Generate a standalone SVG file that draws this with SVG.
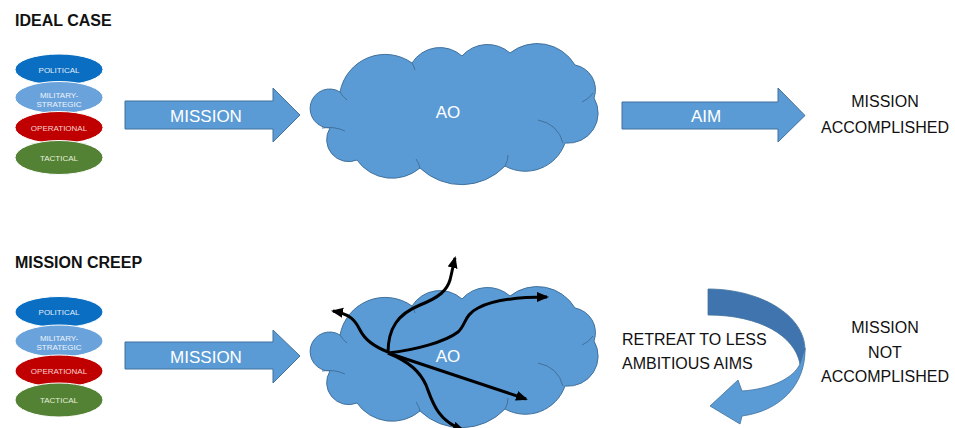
<svg xmlns="http://www.w3.org/2000/svg" width="955" height="428" viewBox="0 0 955 428">
<style>
.hdr{font-family:"Liberation Sans",Arial,sans-serif;font-weight:bold;font-size:16px;fill:#111}
.lbl{font-family:"Liberation Sans",Arial,sans-serif;font-size:16px;fill:#111;text-anchor:middle}
.wt{font-family:"Liberation Sans",Arial,sans-serif;font-size:17px;fill:#fff;text-anchor:middle}
.sm{font-family:"Liberation Sans",Arial,sans-serif;font-size:8px;text-anchor:middle}
.blk{fill:#5B9BD5;stroke:#41719C;stroke-width:1}
.cloud{fill:#5B9BD5;stroke:#41719C;stroke-width:1}
.inner{fill:none;stroke:#41719C;stroke-width:1}
.ln{fill:none;stroke:#000;stroke-width:3;marker-end:url(#ah)}
</style>
<defs>
<marker id="ah" markerUnits="userSpaceOnUse" markerWidth="13" markerHeight="11" refX="10" refY="5" orient="auto">
<path d="M0,0 L12,5 L0,10 z" fill="#000"/>
</marker>
<path id="cloudShape" d="M340,92 A46,46 0 0 1 412,63 A33,33 0 0 1 462,56 A34,34 0 0 1 510,53 A44,44 0 0 1 575,65 A25,25 0 0 1 594,98 A30,30 0 0 1 565,143 A42,42 0 0 1 505,166 A60,60 0 0 1 420,168 A43,43 0 0 1 357,160 A22,22 0 0 1 330,128 A19.5,19.5 0 1 1 340,92 Z"/>
<g id="cloudInner">
<path d="M340,92 Q343,97 347,100"/>
<path d="M322,128 Q334,126 345,131"/>
<path d="M538,120 Q558,124 563,143"/>
<path d="M582,102 Q589,99 593,93"/>
<path d="M505,166 Q508,161 508,155"/>
<path d="M420,168 Q419,163 416,159"/>
<path d="M412,63 Q414,66 415,70"/>
</g>
</defs>
<g id="ideal">
<text class="hdr" x="15" y="26" font-size="15.5">IDEAL CASE</text>
<g id="levels-top">
<ellipse cx="59" cy="69.5" rx="44" ry="15.5" fill="#0A6FC2" stroke="#fff" stroke-width="1"/>
<text class="sm" x="59" y="72.5" fill="#e3edf9">POLITICAL</text>
<ellipse cx="59" cy="97.5" rx="44" ry="16" fill="#6AA3DB" stroke="#fff" stroke-width="1"/>
<text class="sm" x="59" y="97.5" fill="#eef4fb">MILITARY-</text>
<text class="sm" x="59" y="106.5" fill="#eef4fb">STRATEGIC</text>
<ellipse cx="59" cy="127.5" rx="44" ry="16" fill="#C00000" stroke="#fff" stroke-width="1"/>
<text class="sm" x="59" y="130.5" fill="#f7d2d2">OPERATIONAL</text>
<ellipse cx="59" cy="157.5" rx="44" ry="17" fill="#548235" stroke="#fff" stroke-width="1"/>
<text class="sm" x="59" y="160.5" fill="#e4efdc">TACTICAL</text>
</g>
<g id="mission-top">
<path class="blk" d="M125,101 L273,101 L273,88 L300,115 L273,142 L273,129 L125,129 Z"/>
<text class="wt" x="206" y="122">MISSION</text>
</g>
<g id="ao-top">
<use href="#cloudShape" class="cloud"/>
<use href="#cloudInner" class="inner"/>
<text class="wt" x="448" y="118" font-size="16">AO</text>
</g>
<g id="aim">
<path class="blk" d="M622,102 L778,102 L778,88 L805,115.5 L778,142 L778,129 L622,129 Z"/>
<text class="wt" x="706" y="122">AIM</text>
</g>
<g id="accomplished">
<text class="lbl" x="885" y="107">MISSION</text>
<text class="lbl" x="885" y="133">ACCOMPLISHED</text>
</g>
</g>
<g id="creep">
<text class="hdr" x="15" y="268">MISSION CREEP</text>
<g id="levels-bottom">
<ellipse cx="59" cy="312" rx="44" ry="15.5" fill="#0A6FC2" stroke="#fff" stroke-width="1"/>
<text class="sm" x="59" y="315" fill="#e3edf9">POLITICAL</text>
<ellipse cx="59" cy="341" rx="44" ry="16" fill="#6AA3DB" stroke="#fff" stroke-width="1"/>
<text class="sm" x="59" y="340.5" fill="#eef4fb">MILITARY-</text>
<text class="sm" x="59" y="349.5" fill="#eef4fb">STRATEGIC</text>
<ellipse cx="59" cy="371" rx="44" ry="16" fill="#C00000" stroke="#fff" stroke-width="1"/>
<text class="sm" x="59" y="374" fill="#f7d2d2">OPERATIONAL</text>
<ellipse cx="59" cy="400" rx="44" ry="17" fill="#548235" stroke="#fff" stroke-width="1"/>
<text class="sm" x="59" y="403" fill="#e4efdc">TACTICAL</text>
</g>
<g id="mission-bottom">
<path class="blk" d="M125,342 L273,342 L273,330 L300,356 L273,383 L273,369 L125,369 Z"/>
<text class="wt" x="206" y="363">MISSION</text>
</g>
<g id="ao-bottom">
<g transform="translate(0,243)">
<use href="#cloudShape" class="cloud"/>
<use href="#cloudInner" class="inner"/>
</g>
<text class="wt" x="448" y="362" font-size="16">AO</text>
</g>
<g id="connectors">
<path class="ln" d="M388,353 C388,328 398,314 420,305 C440,297 447,290 450,280 C452,272 453,266 455,258"/>
<path class="ln" d="M388,353 C415,350 445,342 458,332 C466,325 464,315 478,308 C495,299 520,297 547,297"/>
<path class="ln" d="M388,352 C375,347 365,340 360,330 C355,320 350,314 333,311"/>
<path class="ln" d="M388,353 L526,399"/>
<path class="ln" d="M388,353 C410,362 420,372 426,385 C432,400 436,420 463,430"/>
</g>
<g id="retreat">
<path d="M708,289 C760,289 805,315 805,350 C804,356 802,360 800,364 C795,336 760,315 708,315 Z" fill="#3F74AE" stroke="#41719C" stroke-width="0.8"/>
<path d="M805,348 C806,385 780,411 742,416 L740,424 L710,406 L738,380 L742,391 C770,389 793,379 800,364 Z" fill="#5B9BD5" stroke="#41719C" stroke-width="0.8"/>
<text class="lbl" x="622" y="345" font-size="15" style="text-anchor:start">RETREAT TO LESS</text>
<text class="lbl" x="622" y="369" font-size="15" style="text-anchor:start">AMBITIOUS AIMS</text>
</g>
<g id="not-accomplished">
<text class="lbl" x="885" y="333">MISSION</text>
<text class="lbl" x="885" y="358">NOT</text>
<text class="lbl" x="885" y="382">ACCOMPLISHED</text>
</g>
</g>
</svg>
